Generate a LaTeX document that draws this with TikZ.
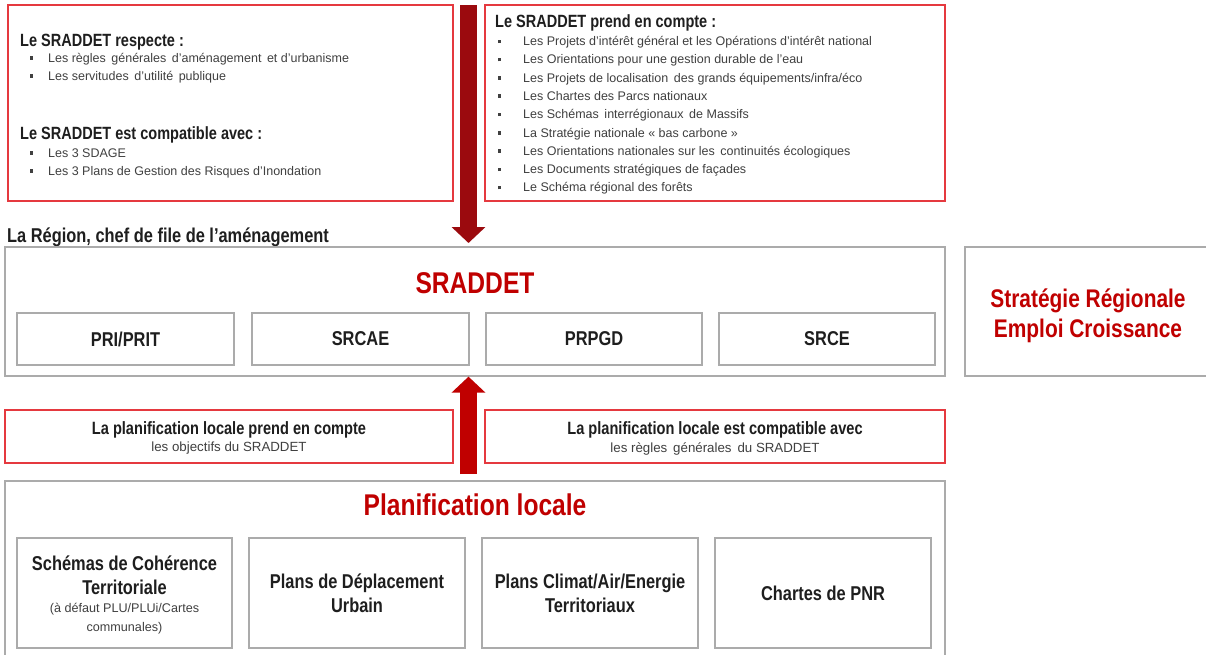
\documentclass[tikz,border=0pt]{standalone}
\usepackage{fontspec}
\setmainfont{Liberation Sans}
\newfontfamily\nar[FakeStretch=0.82]{Liberation Sans}
\newfontfamily\reg{Liberation Sans}
\usetikzlibrary{arrows.meta}
\definecolor{redline}{HTML}{E5393F}
\definecolor{grayline}{HTML}{ABABAB}
\definecolor{txt}{HTML}{1E1E1E}
\definecolor{bultxt}{HTML}{404040}
\definecolor{titlered}{HTML}{C00000}
\definecolor{darkred}{HTML}{9B0A0E}
\tikzset{
  redbox/.style={draw=redline, line width=1.4pt, fill=white, inner sep=0pt},
  graybox/.style={draw=grayline, line width=1.3pt, fill=white, inner sep=0pt, align=center, text=txt},
  boxlabel/.style={font=\nar\bfseries\fontsize{20}{24}\selectfont},
  bigtitle/.style={font=\nar\bfseries\fontsize{30}{34}\selectfont, text=titlered, inner sep=0pt},
  heading/.style={font=\nar\bfseries\fontsize{17.7}{20}\selectfont, text=txt, inner sep=0pt, anchor=base west},
  bulline/.style={font=\reg\fontsize{12.5}{16}\selectfont, text=bultxt, inner sep=0pt, anchor=base west},
  bigarrow/.style={line width=17pt, -{Triangle[width=33pt,length=16pt]}},
}
\newcommand{\bul}[1]{\makebox[0pt][r]{\rule[2.5pt]{3.5pt}{3.5pt}\hspace*{#1}}}
\begin{document}
\begin{tikzpicture}[x=1pt,y=-1pt]
\useasboundingbox (0,0) rectangle (1206,654);
\fill[white] (0,0) rectangle (1206,654);

% top red boxes
\node[redbox, minimum width=445pt, minimum height=196pt] (respect) at (230.5,103) {};
\node[redbox, minimum width=460pt, minimum height=196pt] (compte) at (715,103) {};

% top-left contents
\node[heading] (h1) at (20,46) {Le SRADDET respecte :};
\node[bulline] (b1) at (48,62) {\bul{15pt}Les règles\, générales\, d’aménagement\, et d’urbanisme};
\node[bulline] (b2) at (48,80) {\bul{15pt}Les servitudes\, d’utilité\, publique};
\node[heading] (h2) at (20,139) {Le SRADDET est compatible avec :};
\node[bulline] (b3) at (48,157) {\bul{15pt}Les 3 SDAGE};
\node[bulline] (b4) at (48,175) {\bul{15pt}Les 3 Plans de Gestion des Risques d’Inondation};

% top-right contents
\node[heading] (h3) at (495,27) {Le SRADDET prend en compte :};
\foreach \t [count=\i] in {
  Les Projets d’intérêt général et les Opérations d’intérêt national,
  Les Orientations pour une gestion durable de l’eau,
  Les Projets de localisation\, des grands équipements/infra/éco,
  Les Chartes des Parcs nationaux,
  Les Schémas\, interrégionaux\, de Massifs,
  La Stratégie nationale « bas carbone »,
  Les Orientations nationales sur les\, continuités écologiques,
  Les Documents stratégiques de façades,
  Le Schéma régional des forêts}
  \node[bulline] (r\i) at (523,{45.5+18.3*(\i-1)}) {\bul{22pt}\t};

% down arrow
\coordinate (dtop) at (468.5,5);
\coordinate (dtip) at (468.5,243);
\draw[bigarrow, darkred] (dtop) -- (dtip);

% region label
\node[heading, font=\nar\bfseries\fontsize{20}{22}\selectfont] (region) at (7,242.5) {La Région, chef de file de l’aménagement};

% SRADDET box
\node[graybox, minimum width=940pt, minimum height=129pt] (sraddet) at (475,311.5) {};
\node[bigtitle] (srt) at (475,283) {SRADDET};
\node[graybox, boxlabel, minimum width=217pt, minimum height=52pt] (pri) at (125.5,339) {PRI/PRIT};
\node[graybox, boxlabel, minimum width=217pt, minimum height=52pt] (srcae) at (360.5,339) {SRCAE};
\node[graybox, boxlabel, minimum width=216pt, minimum height=52pt] (prpgd) at (594,339) {PRPGD};
\node[graybox, boxlabel, minimum width=216pt, minimum height=52pt] (srce) at (827,339) {SRCE};

% Strategie box
\node[graybox, minimum width=246pt, minimum height=129pt] (strat) at (1088,311.5) {};
\node[align=center, text=titlered, inner sep=0pt,
      font=\nar\bfseries\fontsize{25.5}{30}\selectfont] (stratt) at (1088,316) {Stratégie Régionale\\Emploi Croissance};

% middle red boxes
\node[redbox, minimum width=448pt, minimum height=53pt] (pec) at (229,436.5) {};
\node[inner sep=0pt, text=txt, font=\nar\bfseries\fontsize{17.8}{20}\selectfont] (pect) at (229,430) {La planification locale prend en compte};
\node[inner sep=0pt, text=bultxt, font=\reg\fontsize{13.3}{16}\selectfont] (pecs) at (229,448.5) {les objectifs du SRADDET};
\node[redbox, minimum width=460pt, minimum height=53pt] (cpa) at (715,436.5) {};
\node[inner sep=0pt, text=txt, font=\nar\bfseries\fontsize{17.8}{20}\selectfont] (cpat) at (715,430) {La planification locale est compatible avec};
\node[inner sep=0pt, text=bultxt, font=\reg\fontsize{13.3}{16}\selectfont] (cpas) at (715,448.5) {les règles\, générales\, du SRADDET};

% Planification locale box
\node[graybox, minimum width=940pt, minimum height=185pt] (plan) at (475,573.5) {};
\node[bigtitle] (plt) at (475,505) {Planification locale};
\node[graybox, minimum width=215pt, minimum height=110pt] (scot) at (124.5,593) {};
\node[inner sep=0pt, align=center, text=txt, font=\nar\bfseries\fontsize{20}{24}\selectfont] (scott) at (124.5,575) {Schémas de Cohérence\\Territoriale};
\node[inner sep=0pt, align=center, text=bultxt, font=\reg\fontsize{12.6}{19}\selectfont] (scots) at (124.5,618.5) {(à défaut PLU/PLUi/Cartes\\communales)};
\node[graybox, boxlabel, minimum width=216pt, minimum height=110pt] (pdu) at (357,593) {Plans de Déplacement\\Urbain};
\node[graybox, boxlabel, minimum width=216pt, minimum height=110pt] (pcaet) at (590,593) {Plans Climat/Air/Energie\\Territoriaux};
\node[graybox, boxlabel, minimum width=216pt, minimum height=110pt] (pnr) at (823,593) {Chartes de PNR};

% up arrow
\coordinate (ubot) at (468.5,474);
\draw[bigarrow, titlered] (ubot) -- (sraddet.south -| ubot);
\end{tikzpicture}
\end{document}
